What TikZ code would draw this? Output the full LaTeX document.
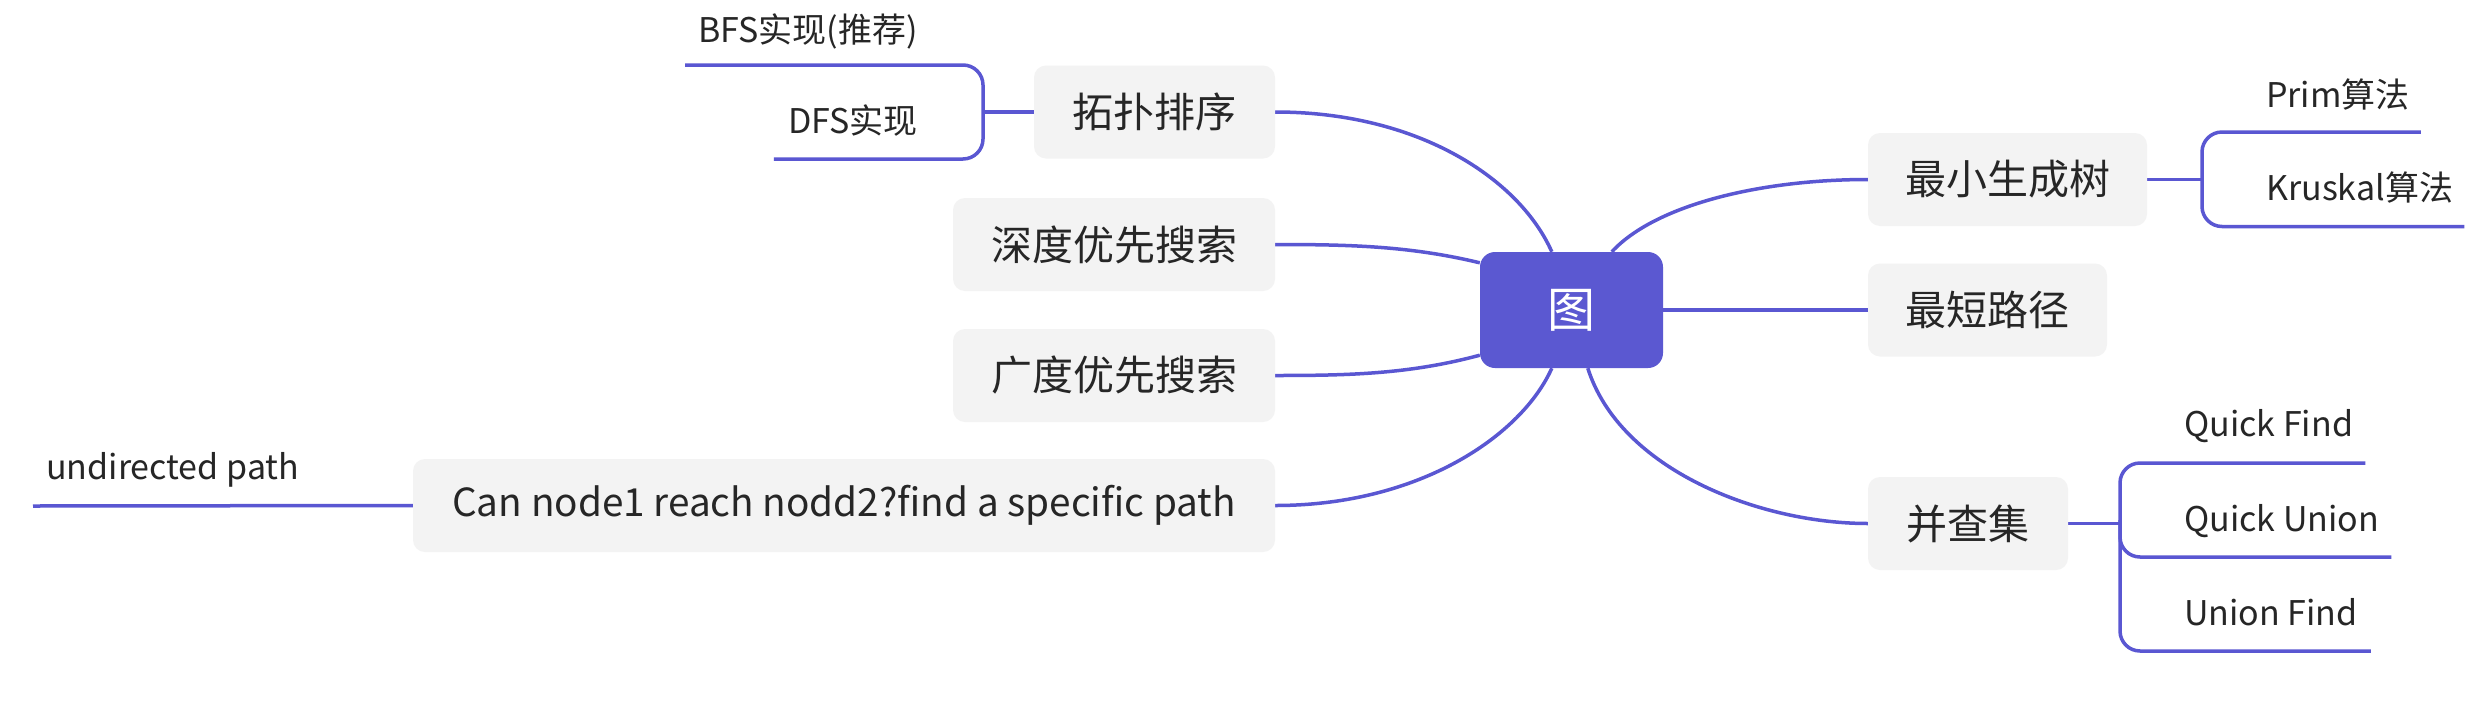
\documentclass[tikz,border=0pt]{standalone}
\usepackage{fontspec}
\setmainfont{Noto Sans CJK SC}
\usetikzlibrary{calc,backgrounds}
\definecolor{lc}{RGB}{90,87,210}
\definecolor{centerfill}{RGB}{91,88,209}
\definecolor{nodegray}{RGB}{243,243,243}
\definecolor{txt}{RGB}{38,38,38}
\begin{document}
\begin{tikzpicture}[x=1pt,y=-1pt,
  topic/.style={fill=nodegray, rounded corners=12pt, text=txt, inner sep=0pt,
    font=\fontsize{41}{48}\selectfont, minimum height=93pt},
  central/.style={fill=centerfill, rounded corners=15pt, text=white, inner sep=0pt,
    font=\fontsize{48}{56}\selectfont, minimum width=183pt, minimum height=116pt},
  lbl/.style={text=txt, inner sep=0pt, font=\fontsize{34}{40}\selectfont},
  conn/.style={draw=lc, line width=3.5pt},
  bracket/.style={conn, rounded corners=20pt}]
\useasboundingbox (0,0) rectangle (2492,702);

% central node
\node[central] (g) at (1571.5,310) {图};

% left topics
\node[topic, minimum width=241pt] (tp) at (1154.5,112) {拓扑排序};
\node[topic, minimum width=322pt] (dfsearch) at (1114,244.5) {深度优先搜索};
\node[topic, minimum width=322pt] (bfsearch) at (1114,375.5) {广度优先搜索};
\node[topic, minimum width=862pt, font=\fontsize{38.7}{46}\selectfont] (can) at (844,505.5) {Can node1 reach nodd2?find a specific path};

% right topics
\node[topic, minimum width=279pt] (mst) at (2007.5,179.5) {最小生成树};
\node[topic, minimum width=239pt] (sp) at (1987.5,310) {最短路径};
\node[topic, minimum width=200pt] (uf) at (1968,523.5) {并查集};

% subtopic labels
\node[lbl, anchor=base east] (bfs) at (918,42) {BFS实现(推荐)};
\node[lbl, anchor=base east] (dfs) at (918,133) {DFS实现};
\node[lbl, anchor=base west] (und) at (46,479) {undirected path};
\node[lbl, anchor=base west] (prim) at (2266,107) {Prim算法};
\node[lbl, anchor=base west] (krus) at (2266,200) {Kruskal算法};
\node[lbl, anchor=base west] (qf) at (2184,436) {Quick Find};
\node[lbl, anchor=base west] (qu) at (2184,531) {Quick Union};
\node[lbl, anchor=base west] (unf) at (2184,625) {Union Find};

\coordinate (tpj) at (983,112);
\coordinate (mstj) at (2202,179.5);
\coordinate (ufj) at (2120,523.5);

\begin{scope}[on background layer]
\fill[white] (0,0) rectangle (2492,702);
% main branches
\draw[conn] ($(g.north west)+(72,0)$) .. controls (1520,180) and (1420,112) .. (tp.east);
\draw[conn] ($(g.north west)+(0,11)$) .. controls (1410,246) and (1350,244.5) .. (dfsearch.east);
\draw[conn] ($(g.south west)+(0,-13)$) .. controls (1410,374) and (1350,375.5) .. (bfsearch.east);
\draw[conn] ($(g.south west)+(72,0)$) .. controls (1522,435) and (1420,505.5) .. (can.east);
\draw[conn] ($(g.north west)+(132,0)$) .. controls (1655,205) and (1760,179.5) .. (mst.west);
\draw[conn] (g.east) -- (sp.west);
\draw[conn] ($(g.south west)+(108,0)$) .. controls (1620,470) and (1760,523.5) .. (uf.west);

% topological sort bracket
\draw[conn] (tp.west) -- (tpj);
\draw[bracket] let \p1=(bfs.west), \p2=(dfs.west) in
  (\x1-13pt,-65pt) -- (983,65) -- (983,159) -- (\x2-14pt,-159pt);

% undirected path
\draw[conn] let \p1=(und.west) in (\x1-13pt,-506pt) -- (can.west);

% MST bracket
\draw[conn] (mst.east) -- (mstj);
\draw[bracket] let \p1=(prim.east), \p2=(krus.east) in
  (\x1+11pt,-132pt) -- (2202,132) -- (2202,226.5) -- (\x2+11pt,-226.5pt);

% union find bracket
\draw[conn] (uf.east) -- (ufj);
\draw[bracket] let \p1=(qf.east), \p2=(qu.east) in
  (\x1+12pt,-463pt) -- (2120,463) -- (2120,557) -- (\x2+12pt,-557pt);
\draw[bracket] let \p1=(unf.east) in
  (2120,520) -- (2120,651) -- (\x1+13pt,-651pt);
\end{scope}
\end{tikzpicture}
\end{document}
